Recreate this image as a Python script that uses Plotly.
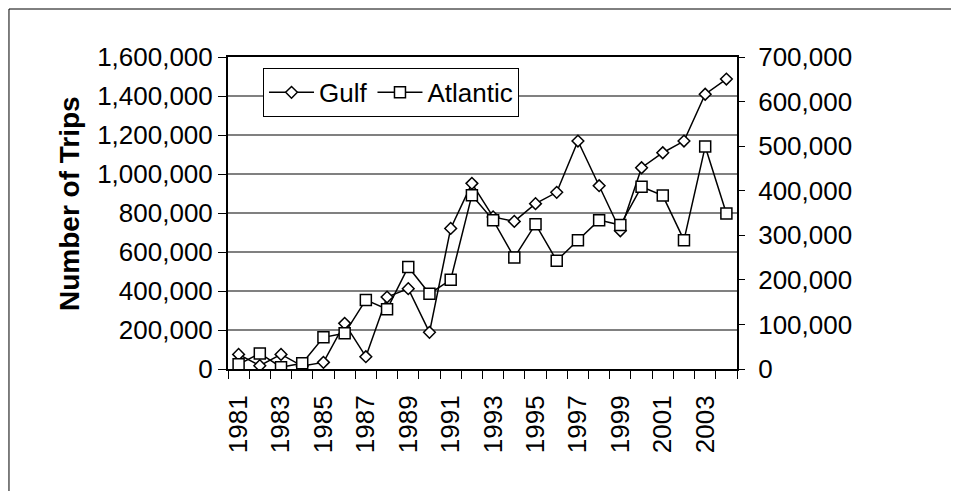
import plotly.graph_objects as go

YEARS = [1981, 1982, 1983, 1984, 1985, 1986, 1987, 1988, 1989, 1990, 1991, 1992,
         1993, 1994, 1995, 1996, 1997, 1998, 1999, 2000, 2001, 2002, 2003, 2004]
GULF = [75000, 17000, 75000, 15000, 34000, 234000, 63000, 369000, 412000, 188000,
        721000, 952000, 780000, 757000, 848000, 906000, 1169000, 940000, 709000,
        1032000, 1109000, 1169000, 1409000, 1487000]
ATLANTIC = [10500, 35000, 4000, 13000, 71000, 80000, 155000, 134000, 229000, 169000,
            200000, 390000, 334000, 250000, 325000, 243000, 289000, 334000, 323000,
            409000, 389000, 289000, 499000, 349000]
TICK_YEARS = YEARS[::2]

FONT = "Liberation Sans, Arial, sans-serif"
LINE = "#000000"

fig = go.Figure()

fig.add_trace(go.Scatter(
    x=YEARS, y=GULF,
    mode="lines+markers",
    name="Gulf",
    line=dict(color=LINE, width=1.5),
    marker=dict(symbol="diamond", size=9, color="white", line=dict(color=LINE, width=1.5)),
))

fig.add_trace(go.Scatter(
    x=YEARS, y=ATLANTIC,
    mode="lines+markers",
    name="Atlantic",
    yaxis="y2",
    line=dict(color=LINE, width=1.5),
    marker=dict(symbol="square", size=11, color="white", line=dict(color=LINE, width=1.5)),
))

fig.add_annotation(
    text="<b>Number of Trips</b>",
    xref="paper", yref="paper",
    x=-0.3124, y=0.532,
    xanchor="center", yanchor="middle",
    textangle=-90,
    showarrow=False,
    font=dict(family=FONT, size=28, color="black"),
)

# chart frame: only the top and left edges fall inside the picture
fig.add_shape(
    type="line", xref="paper", yref="paper",
    x0=-0.4303, x1=1.5, y0=1.1538, y1=1.1538,
    line=dict(color="#000000", width=1),
    layer="below",
)
fig.add_shape(
    type="line", xref="paper", yref="paper",
    x0=-0.4303, x1=-0.4303, y0=-0.5, y1=1.1538,
    line=dict(color="#000000", width=1),
    layer="below",
)

# page body has an 8px margin, so the plot is shifted back by 8px
fig.update_layout(
    width=959,
    height=491,
    margin=dict(l=220, r=230, t=49, b=130),
    paper_bgcolor="white",
    plot_bgcolor="white",
    font=dict(family=FONT, size=26, color="black"),
    showlegend=True,
    legend=dict(
        orientation="h",
        x=0.0688, y=0.965,
        xanchor="left", yanchor="top",
        bgcolor="white",
        bordercolor="#000000",
        borderwidth=1,
        font=dict(family=FONT, size=26, color="black"),
        itemwidth=45,
        tracegroupgap=0,
    ),
    xaxis=dict(
        range=[1980.5, 2004.5],
        tickmode="array",
        tickvals=TICK_YEARS,
        ticktext=[str(y) for y in TICK_YEARS],
        tickangle=-90,
        ticks="",
        ticklabelstandoff=14,
        showgrid=False,
        zeroline=False,
        showline=True,
        linecolor="black",
        linewidth=2,
        mirror=True,
        minor=dict(tickmode="linear", tick0=1980.5, dtick=1, ticks="outside",
                   ticklen=8, tickcolor="black", tickwidth=1, showgrid=False),
    ),
    yaxis=dict(
        range=[0, 1600000],
        dtick=200000,
        tickformat=",",
        ticks="outside",
        ticklen=8,
        tickcolor="black",
        showgrid=True,
        gridcolor="#808080",
        gridwidth=1.5,
        zeroline=False,
        showline=True,
        linecolor="black",
        linewidth=2,
        mirror=True,
    ),
    yaxis2=dict(
        range=[0, 700000],
        dtick=100000,
        tickformat=",",
        overlaying="y",
        side="right",
        anchor="x",
        ticks="outside",
        ticklen=6,
        tickcolor="black",
        ticklabelstandoff=8,
        showgrid=False,
        zeroline=False,
        showline=True,
        linecolor="black",
        linewidth=2,
    ),
    yaxis3=dict(
        range=[0, 700000],
        dtick=100000,
        overlaying="y",
        side="right",
        anchor="x",
        ticks="inside",
        ticklen=8,
        tickcolor="black",
        showticklabels=False,
        showgrid=False,
        zeroline=False,
        showline=False,
    ),
)

fig.write_html("out.html")
